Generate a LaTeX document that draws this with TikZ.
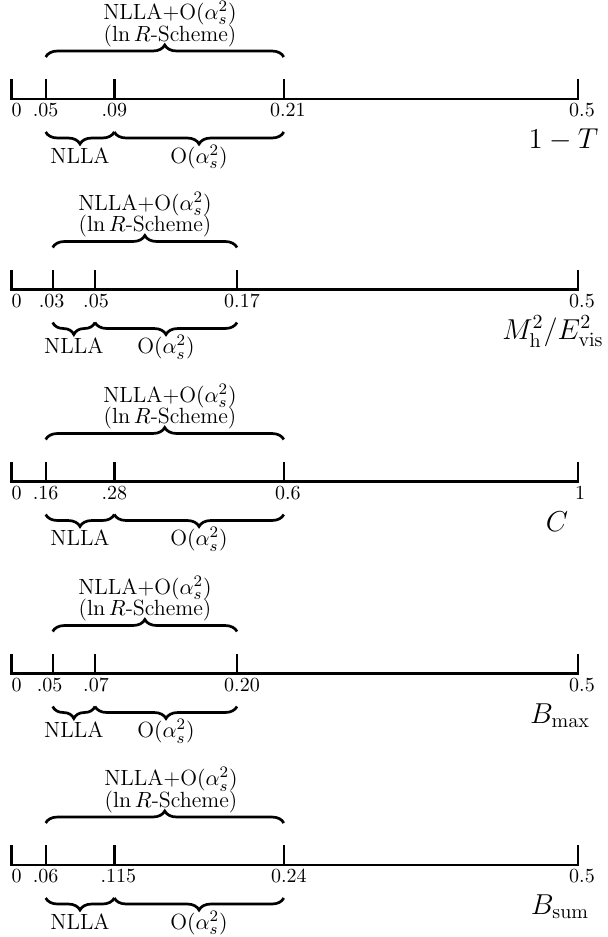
\documentclass[tikz,border=0pt]{standalone}
\usepackage{amsmath}
\usetikzlibrary{decorations.pathreplacing,calc}

\begin{document}
\begin{tikzpicture}[
  x=0.5pt, y=0.5pt,
  axis/.style={line width=1.4pt, line join=miter},
  tick/.style={line width=1.2pt},
  ubrace/.style={decorate, decoration={brace, amplitude=6pt}, line width=1.35pt},
  lbrace/.style={decorate, decoration={brace, mirror, amplitude=6pt}, line width=1.35pt},
  num/.style={anchor=base, inner sep=0pt, font=\normalsize},
  lab/.style={anchor=base, inner sep=0pt, font=\fontsize{11}{13}\selectfont},
  head/.style={anchor=south, inner sep=0pt, align=center, font=\fontsize{11}{12}\selectfont},
  var/.style={anchor=base, inner sep=0pt, font=\Large}
]
\useasboundingbox (0,0) rectangle (608,-937);

% thrust
\begin{scope}[shift={(0,-99)}]
  \coordinate (p0) at (11.7,0);
  \coordinate (p1) at (45.7,0);
  \coordinate (p2) at (114.3,0);
  \coordinate (p3) at (283.8,0);
  \coordinate (p4) at (578,0);
  \draw[axis] ($(p0)+(0,20)$) -- (p0) -- (p4) -- ++(0,20);
  \foreach \p in {p1,p2,p3} \draw[tick] (\p) -- ++(0,20);
  \node[num] (n0) at (16.7,-17.7) {0};
  \path (p1) ++(0,-17.7) node[num] (n1) {.05};
  \path (p2) ++(0,-17.7) node[num] (n2) {.09};
  \path (p3) ++(4,-17.7) node[num] (n3) {0.21};
  \path (p4) ++(4,-17.7) node[num] (n4) {0.5};
  \draw[ubrace] ($(p1)+(0,42)$) -- ($(p3)+(0,42)$);
  \draw[lbrace] ($(p1)+(0,-33)$) -- ($(p2)+(0,-33)$);
  \draw[lbrace] ($(p2)+(0,-33)$) -- ($(p3)+(0,-33)$);
  \node[head] (ttl) at (170,51.8) {NLLA+O$(\alpha_s^2)$\\[-1.15pt]($\ln R$-Scheme)};
  \node[lab] (nlla) at ($(p1)!.5!(p2)+(0,-64.3)$) {NLLA};
  \node[lab] (oas) at ($(p2)!.5!(p3)+(0,-64.3)$) {O$(\alpha_s^2)$};
  \node[var] (obs) at (563.5,-49.5) {$1-T$};
\end{scope}

% heavy jet mass
\begin{scope}[shift={(0,-289.5)}]
  \coordinate (p0) at (11.7,0);
  \coordinate (p1) at (52.7,0);
  \coordinate (p2) at (95,0);
  \coordinate (p3) at (237,0);
  \coordinate (p4) at (578,0);
  \draw[axis] ($(p0)+(0,20)$) -- (p0) -- (p4) -- ++(0,20);
  \foreach \p in {p1,p2,p3} \draw[tick] (\p) -- ++(0,20);
  \node[num] (n0) at (16.7,-17.7) {0};
  \path (p1) ++(-1,-17.7) node[num] (n1) {.03};
  \path (p2) ++(1,-17.7) node[num] (n2) {.05};
  \path (p3) ++(5,-17.7) node[num] (n3) {0.17};
  \path (p4) ++(4,-17.7) node[num] (n4) {0.5};
  \draw[ubrace] ($(p1)+(0,42)$) -- ($(p3)+(0,42)$);
  \draw[lbrace] ($(p1)+(0,-33)$) -- ($(p2)+(0,-33)$);
  \draw[lbrace] ($(p2)+(0,-33)$) -- ($(p3)+(0,-33)$);
  \node[head] (ttl) at (145,51.8) {NLLA+O$(\alpha_s^2)$\\[-1.15pt]($\ln R$-Scheme)};
  \node[lab] (nlla) at ($(p1)!.5!(p2)+(0,-64.3)$) {NLLA};
  \node[lab] (oas) at ($(p2)!.5!(p3)+(0,-64.3)$) {O$(\alpha_s^2)$};
  \node[var] (obs) at (553,-49.5) {$M_{\rm h}^2/E_{\rm vis}^2$};
\end{scope}

% C-parameter
\begin{scope}[shift={(0,-481.5)}]
  \coordinate (p0) at (11.7,0);
  \coordinate (p1) at (45.7,0);
  \coordinate (p2) at (114.3,0);
  \coordinate (p3) at (283.8,0);
  \coordinate (p4) at (578,0);
  \draw[axis] ($(p0)+(0,20)$) -- (p0) -- (p4) -- ++(0,20);
  \foreach \p in {p1,p2,p3} \draw[tick] (\p) -- ++(0,20);
  \node[num] (n0) at (16.7,-17.7) {0};
  \path (p1) ++(0,-17.7) node[num] (n1) {.16};
  \path (p2) ++(0,-17.7) node[num] (n2) {.28};
  \path (p3) ++(4,-17.7) node[num] (n3) {0.6};
  \path (p4) ++(2,-17.7) node[num] (n4) {1};
  \draw[ubrace] ($(p1)+(0,42)$) -- ($(p3)+(0,42)$);
  \draw[lbrace] ($(p1)+(0,-33)$) -- ($(p2)+(0,-33)$);
  \draw[lbrace] ($(p2)+(0,-33)$) -- ($(p3)+(0,-33)$);
  \node[head] (ttl) at (170,51.8) {NLLA+O$(\alpha_s^2)$\\[-1.15pt]($\ln R$-Scheme)};
  \node[lab] (nlla) at ($(p1)!.5!(p2)+(0,-64.3)$) {NLLA};
  \node[lab] (oas) at ($(p2)!.5!(p3)+(0,-64.3)$) {O$(\alpha_s^2)$};
  \node[var] (obs) at (557,-49.5) {$C$};
\end{scope}

% wide jet broadening
\begin{scope}[shift={(0,-673.5)}]
  \coordinate (p0) at (11.7,0);
  \coordinate (p1) at (52.7,0);
  \coordinate (p2) at (95,0);
  \coordinate (p3) at (237,0);
  \coordinate (p4) at (578,0);
  \draw[axis] ($(p0)+(0,20)$) -- (p0) -- (p4) -- ++(0,20);
  \foreach \p in {p1,p2,p3} \draw[tick] (\p) -- ++(0,20);
  \node[num] (n0) at (16.7,-17.7) {0};
  \path (p1) ++(-3,-17.7) node[num] (n1) {.05};
  \path (p2) ++(1,-17.7) node[num] (n2) {.07};
  \path (p3) ++(5,-17.7) node[num] (n3) {0.20};
  \path (p4) ++(4,-17.7) node[num] (n4) {0.5};
  \draw[ubrace] ($(p1)+(0,42)$) -- ($(p3)+(0,42)$);
  \draw[lbrace] ($(p1)+(0,-33)$) -- ($(p2)+(0,-33)$);
  \draw[lbrace] ($(p2)+(0,-33)$) -- ($(p3)+(0,-33)$);
  \node[head] (ttl) at (145,51.8) {NLLA+O$(\alpha_s^2)$\\[-1.15pt]($\ln R$-Scheme)};
  \node[lab] (nlla) at ($(p1)!.5!(p2)+(0,-64.3)$) {NLLA};
  \node[lab] (oas) at ($(p2)!.5!(p3)+(0,-64.3)$) {O$(\alpha_s^2)$};
  \node[var] (obs) at (560,-49.5) {$B_{\max}$};
\end{scope}

% total jet broadening
\begin{scope}[shift={(0,-865)}]
  \coordinate (p0) at (11.7,0);
  \coordinate (p1) at (45.7,0);
  \coordinate (p2) at (114.3,0);
  \coordinate (p3) at (283.8,0);
  \coordinate (p4) at (578,0);
  \draw[axis] ($(p0)+(0,20)$) -- (p0) -- (p4) -- ++(0,20);
  \foreach \p in {p1,p2,p3} \draw[tick] (\p) -- ++(0,20);
  \node[num] (n0) at (16.7,-17.7) {0};
  \path (p1) ++(0,-17.7) node[num] (n1) {.06};
  \path (p2) ++(4,-17.7) node[num] (n2) {.115};
  \path (p3) ++(5,-17.7) node[num] (n3) {0.24};
  \path (p4) ++(4,-17.7) node[num] (n4) {0.5};
  \draw[ubrace] ($(p1)+(0,42)$) -- ($(p3)+(0,42)$);
  \draw[lbrace] ($(p1)+(0,-33)$) -- ($(p2)+(0,-33)$);
  \draw[lbrace] ($(p2)+(0,-33)$) -- ($(p3)+(0,-33)$);
  \node[head] (ttl) at (171,51.8) {NLLA+O$(\alpha_s^2)$\\[-1.15pt]($\ln R$-Scheme)};
  \node[lab] (nlla) at ($(p1)!.5!(p2)+(0,-64.3)$) {NLLA};
  \node[lab] (oas) at ($(p2)!.5!(p3)+(0,-64.3)$) {O$(\alpha_s^2)$};
  \node[var] (obs) at (560,-49.5) {$B_{\rm sum}$};
\end{scope}
\end{tikzpicture}
\end{document}
